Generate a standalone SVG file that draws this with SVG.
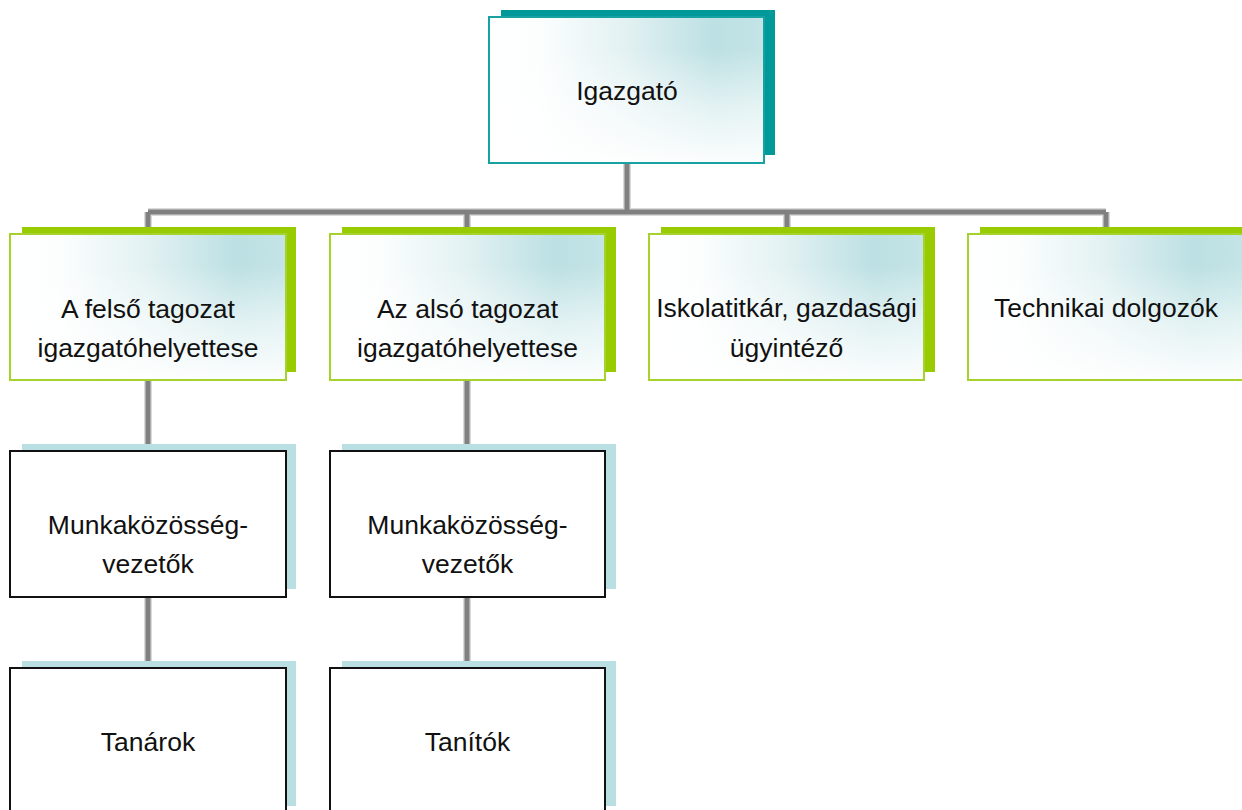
<svg xmlns="http://www.w3.org/2000/svg" width="1242" height="810" viewBox="0 0 1242 810">
<style>
  text { font-family: "Liberation Sans", Arial, sans-serif; font-size: 26.5px; fill: #111111; text-anchor: middle; }
  .sh-teal { fill: #009999; }
  .sh-green { fill: #99CC00; }
  .sh-blue { fill: #B9DFE2; }
  .fill { fill: url(#gh); }
  .box-teal { fill: url(#gv); stroke: #16A2A2; stroke-width: 2; }
  .box-green { fill: url(#gv); stroke: #A6D22E; stroke-width: 2; }
  .box-black { fill: #FFFFFF; stroke: #111111; stroke-width: 2; }
  .conn-halo { fill: none; stroke: #DADADA; stroke-width: 8; }
  .conn { fill: none; stroke: #808080; stroke-width: 5; }
</style>
<defs>
  <linearGradient id="gh" x1="0" y1="0" x2="1" y2="0">
    <stop offset="0" stop-color="#FFFFFF"/>
    <stop offset="0.18" stop-color="#FCFEFE"/>
    <stop offset="0.5" stop-color="#E2F1F2"/>
    <stop offset="0.82" stop-color="#BCE0E3"/>
    <stop offset="1" stop-color="#C4E4E6"/>
  </linearGradient>
  <linearGradient id="gv" x1="0" y1="0" x2="0" y2="1">
    <stop offset="0" stop-color="#FFFFFF" stop-opacity="0"/>
    <stop offset="0.22" stop-color="#FFFFFF" stop-opacity="0"/>
    <stop offset="0.6" stop-color="#FFFFFF" stop-opacity="0.55"/>
    <stop offset="1" stop-color="#FFFFFF" stop-opacity="0.95"/>
  </linearGradient>
</defs>
<rect width="1242" height="810" fill="#FFFFFF"/>

<g id="connectors">
  <path class="conn-halo" d="M627,163 V212 M148,212 H1106 M148,212 V228 M467,212 V228 M787,212 V228 M1106,212 V228 M148,380 V444 M467,380 V444 M148,597 V661 M467,597 V661"/>
  <path class="conn" d="M627,163 V212 M148,212 H1106 M148,212 V228 M467,212 V228 M787,212 V228 M1106,212 V228 M148,380 V444 M467,380 V444 M148,597 V661 M467,597 V661"/>
</g>

<g id="igazgato">
  <rect class="sh-teal" x="501" y="10" width="274" height="145"/>
  <rect class="fill" x="489" y="17" width="275" height="146"/>
  <rect class="box-teal" x="489" y="17" width="275" height="146"/>
  <text x="627" y="100">Igazgató</text>
</g>

<g id="felso-helyettes">
  <rect class="sh-green" x="22" y="227" width="274" height="145"/>
  <rect class="fill" x="10" y="234" width="276" height="146"/>
  <rect class="box-green" x="10" y="234" width="276" height="146"/>
  <text x="148" y="318">A felső tagozat</text>
  <text x="148" y="357">igazgatóhelyettese</text>
</g>

<g id="also-helyettes">
  <rect class="sh-green" x="342" y="227" width="274" height="145"/>
  <rect class="fill" x="330" y="234" width="275" height="146"/>
  <rect class="box-green" x="330" y="234" width="275" height="146"/>
  <text x="467.5" y="318">Az alsó tagozat</text>
  <text x="467.5" y="357">igazgatóhelyettese</text>
</g>

<g id="iskolatitkar">
  <rect class="sh-green" x="661" y="227" width="274" height="145"/>
  <rect class="fill" x="649" y="234" width="275" height="146"/>
  <rect class="box-green" x="649" y="234" width="275" height="146"/>
  <text x="786.5" y="317">Iskolatitkár, gazdasági</text>
  <text x="786.5" y="357">ügyintéző</text>
</g>

<g id="technikai">
  <rect class="sh-green" x="980" y="227" width="274" height="145"/>
  <rect class="fill" x="968" y="234" width="276" height="146"/>
  <rect class="box-green" x="968" y="234" width="276" height="146"/>
  <text x="1106" y="317">Technikai dolgozók</text>
</g>

<g id="munkakozosseg-felso">
  <rect class="sh-blue" x="22" y="444" width="274" height="145"/>
  <rect class="box-black" x="10" y="451" width="276" height="146"/>
  <text x="148" y="534">Munkaközösség-</text>
  <text x="148" y="573">vezetők</text>
</g>

<g id="munkakozosseg-also">
  <rect class="sh-blue" x="342" y="444" width="274" height="145"/>
  <rect class="box-black" x="330" y="451" width="275" height="146"/>
  <text x="467.5" y="534">Munkaközösség-</text>
  <text x="467.5" y="573">vezetők</text>
</g>

<g id="tanarok">
  <rect class="sh-blue" x="22" y="661" width="274" height="145"/>
  <rect class="box-black" x="10" y="668" width="276" height="146"/>
  <text x="148" y="751">Tanárok</text>
</g>

<g id="tanitok">
  <rect class="sh-blue" x="342" y="661" width="274" height="145"/>
  <rect class="box-black" x="330" y="668" width="275" height="146"/>
  <text x="467.5" y="751">Tanítók</text>
</g>
</svg>
